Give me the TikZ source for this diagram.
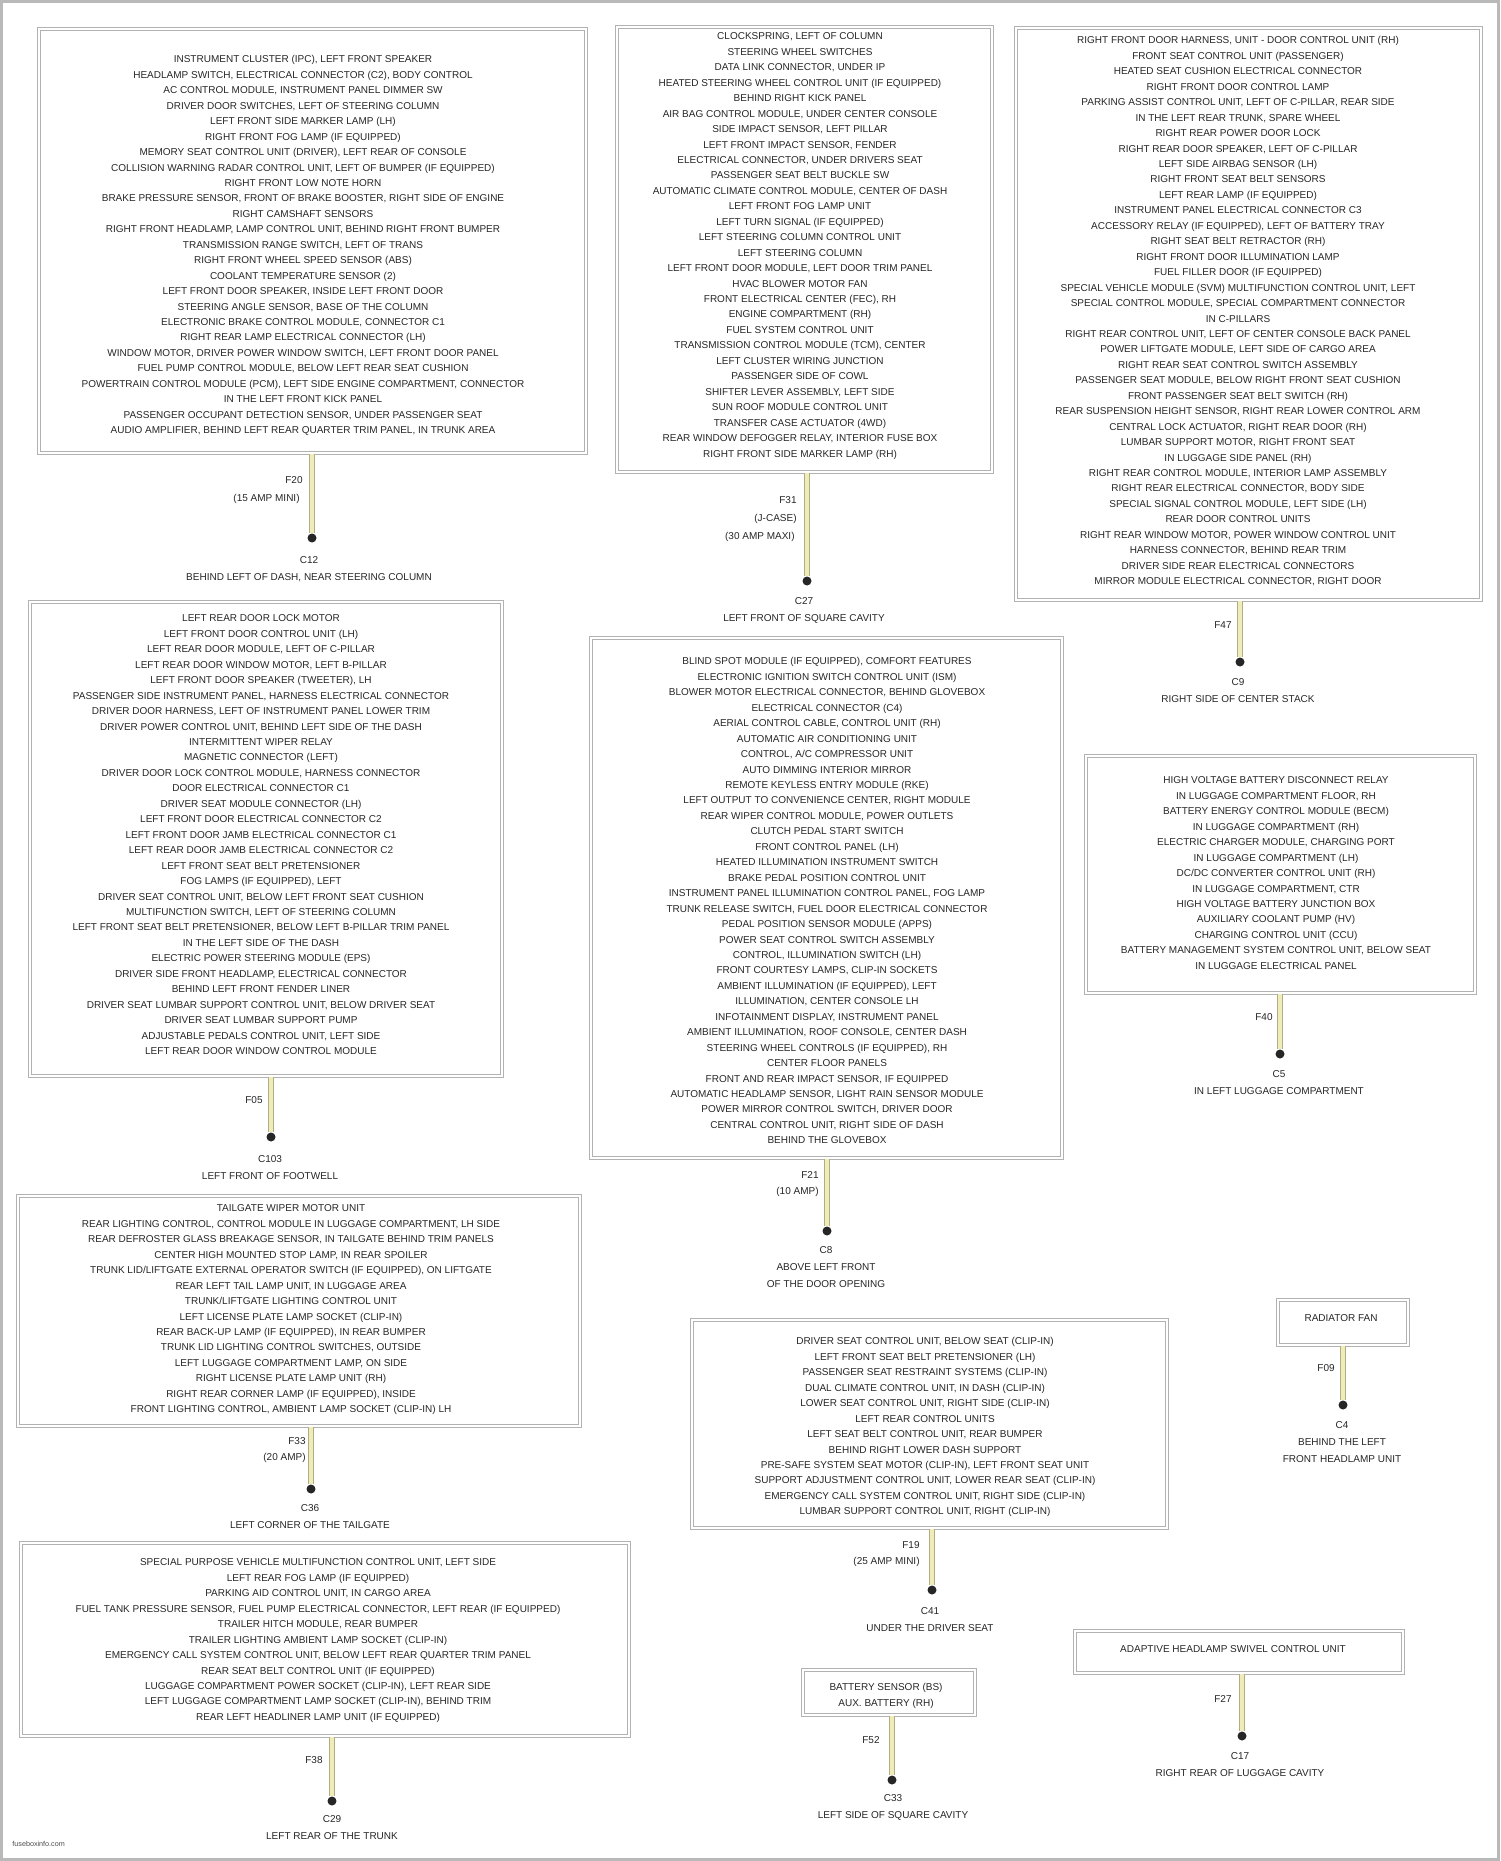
\documentclass[tikz,border=0pt]{standalone}
\usepackage{fontspec}
\newfontfamily\lab{Liberation Sans}
\usetikzlibrary{fit}
\newcommand\fs{\rule{0pt}{3.75pt}}
\begin{document}
\begin{tikzpicture}[x=0.5pt,y=-0.5pt,
  box/.style={draw=gray!60, line width=0.55pt, double=white, double distance=0.9pt, inner sep=0pt},
  txt/.style={align=center, inner sep=0pt, anchor=north, font=\lab\fontsize{5}{7.725}\selectfont, text=black!85},
  dlab/.style={align=center, inner sep=0pt, anchor=north, font=\lab\fontsize{5}{8.4}\selectfont, text=black!85},
  elab/.style={align=right, inner sep=0pt, anchor=north east, font=\lab\fontsize{5}{8.4}\selectfont, text=black!85},
  wire/.style={draw={rgb,255:red,176;green,172;blue,132}, line width=0.5pt, double={rgb,255:red,240;green,236;blue,186}, double distance=1.6pt},
  pin/.style={circle, fill=black!85, inner sep=0pt, minimum size=4.5pt},
  credit/.style={inner sep=0pt, anchor=west, font=\lab\fontsize{3.6}{4}\selectfont, text=black!70}
]
\useasboundingbox (0,0) rectangle (1500,1861);
\draw[gray!55, line width=1.5pt] (1.5,1.5) rectangle (1498.5,1859.5);

% ---------- boxes ----------
\node[box, fit={(39,29) (586,453)}] (b1) {};
\node[box, fit={(617,27) (992,472)}] (b2) {};
\node[box, fit={(1016,28) (1481,600)}] (b3) {};
\node[box, fit={(30,602) (502,1076)}] (b4) {};
\node[box, fit={(591,638) (1062,1158)}] (b5) {};
\node[box, fit={(1086,756) (1475,993)}] (b6) {};
\node[box, fit={(18,1196) (580,1426)}] (b7) {};
\node[box, fit={(21,1543) (629,1736)}] (b8) {};
\node[box, fit={(692,1320) (1167,1528)}] (b9) {};
\node[box, fit={(1278,1300) (1408,1345)}] (b10) {};
\node[box, fit={(803,1670) (975,1715)}] (b11) {};
\node[box, fit={(1075,1631) (1403,1673)}] (b12) {};

% ---------- box texts ----------
\node[txt] (t1) at (303,55) {\fs INSTRUMENT CLUSTER (IPC), LEFT FRONT SPEAKER\\
HEADLAMP SWITCH, ELECTRICAL CONNECTOR (C2), BODY CONTROL\\
AC CONTROL MODULE, INSTRUMENT PANEL DIMMER SW\\
DRIVER DOOR SWITCHES, LEFT OF STEERING COLUMN\\
LEFT FRONT SIDE MARKER LAMP (LH)\\
RIGHT FRONT FOG LAMP (IF EQUIPPED)\\
MEMORY SEAT CONTROL UNIT (DRIVER), LEFT REAR OF CONSOLE\\
COLLISION WARNING RADAR CONTROL UNIT, LEFT OF BUMPER (IF EQUIPPED)\\
RIGHT FRONT LOW NOTE HORN\\
BRAKE PRESSURE SENSOR, FRONT OF BRAKE BOOSTER, RIGHT SIDE OF ENGINE\\
RIGHT CAMSHAFT SENSORS\\
RIGHT FRONT HEADLAMP, LAMP CONTROL UNIT, BEHIND RIGHT FRONT BUMPER\\
TRANSMISSION RANGE SWITCH, LEFT OF TRANS\\
RIGHT FRONT WHEEL SPEED SENSOR (ABS)\\
COOLANT TEMPERATURE SENSOR (2)\\
LEFT FRONT DOOR SPEAKER, INSIDE LEFT FRONT DOOR\\
STEERING ANGLE SENSOR, BASE OF THE COLUMN\\
ELECTRONIC BRAKE CONTROL MODULE, CONNECTOR C1\\
RIGHT REAR LAMP ELECTRICAL CONNECTOR (LH)\\
WINDOW MOTOR, DRIVER POWER WINDOW SWITCH, LEFT FRONT DOOR PANEL\\
FUEL PUMP CONTROL MODULE, BELOW LEFT REAR SEAT CUSHION\\
POWERTRAIN CONTROL MODULE (PCM), LEFT SIDE ENGINE COMPARTMENT, CONNECTOR\\
IN THE LEFT FRONT KICK PANEL\\
PASSENGER OCCUPANT DETECTION SENSOR, UNDER PASSENGER SEAT\\
AUDIO AMPLIFIER, BEHIND LEFT REAR QUARTER TRIM PANEL, IN TRUNK AREA};

\node[txt] (t2) at (800,32) {\fs CLOCKSPRING, LEFT OF COLUMN\\
STEERING WHEEL SWITCHES\\
DATA LINK CONNECTOR, UNDER IP\\
HEATED STEERING WHEEL CONTROL UNIT (IF EQUIPPED)\\
BEHIND RIGHT KICK PANEL\\
AIR BAG CONTROL MODULE, UNDER CENTER CONSOLE\\
SIDE IMPACT SENSOR, LEFT PILLAR\\
LEFT FRONT IMPACT SENSOR, FENDER\\
ELECTRICAL CONNECTOR, UNDER DRIVERS SEAT\\
PASSENGER SEAT BELT BUCKLE SW\\
AUTOMATIC CLIMATE CONTROL MODULE, CENTER OF DASH\\
LEFT FRONT FOG LAMP UNIT\\
LEFT TURN SIGNAL (IF EQUIPPED)\\
LEFT STEERING COLUMN CONTROL UNIT\\
LEFT STEERING COLUMN\\
LEFT FRONT DOOR MODULE, LEFT DOOR TRIM PANEL\\
HVAC BLOWER MOTOR FAN\\
FRONT ELECTRICAL CENTER (FEC), RH\\
ENGINE COMPARTMENT (RH)\\
FUEL SYSTEM CONTROL UNIT\\
TRANSMISSION CONTROL MODULE (TCM), CENTER\\
LEFT CLUSTER WIRING JUNCTION\\
PASSENGER SIDE OF COWL\\
SHIFTER LEVER ASSEMBLY, LEFT SIDE\\
SUN ROOF MODULE CONTROL UNIT\\
TRANSFER CASE ACTUATOR (4WD)\\
REAR WINDOW DEFOGGER RELAY, INTERIOR FUSE BOX\\
RIGHT FRONT SIDE MARKER LAMP (RH)};

\node[txt] (t3) at (1238,36) {\fs RIGHT FRONT DOOR HARNESS, UNIT - DOOR CONTROL UNIT (RH)\\
FRONT SEAT CONTROL UNIT (PASSENGER)\\
HEATED SEAT CUSHION ELECTRICAL CONNECTOR\\
RIGHT FRONT DOOR CONTROL LAMP\\
PARKING ASSIST CONTROL UNIT, LEFT OF C-PILLAR, REAR SIDE\\
IN THE LEFT REAR TRUNK, SPARE WHEEL\\
RIGHT REAR POWER DOOR LOCK\\
RIGHT REAR DOOR SPEAKER, LEFT OF C-PILLAR\\
LEFT SIDE AIRBAG SENSOR (LH)\\
RIGHT FRONT SEAT BELT SENSORS\\
LEFT REAR LAMP (IF EQUIPPED)\\
INSTRUMENT PANEL ELECTRICAL CONNECTOR C3\\
ACCESSORY RELAY (IF EQUIPPED), LEFT OF BATTERY TRAY\\
RIGHT SEAT BELT RETRACTOR (RH)\\
RIGHT FRONT DOOR ILLUMINATION LAMP\\
FUEL FILLER DOOR (IF EQUIPPED)\\
SPECIAL VEHICLE MODULE (SVM) MULTIFUNCTION CONTROL UNIT, LEFT\\
SPECIAL CONTROL MODULE, SPECIAL COMPARTMENT CONNECTOR\\
IN C-PILLARS\\
RIGHT REAR CONTROL UNIT, LEFT OF CENTER CONSOLE BACK PANEL\\
POWER LIFTGATE MODULE, LEFT SIDE OF CARGO AREA\\
RIGHT REAR SEAT CONTROL SWITCH ASSEMBLY\\
PASSENGER SEAT MODULE, BELOW RIGHT FRONT SEAT CUSHION\\
FRONT PASSENGER SEAT BELT SWITCH (RH)\\
REAR SUSPENSION HEIGHT SENSOR, RIGHT REAR LOWER CONTROL ARM\\
CENTRAL LOCK ACTUATOR, RIGHT REAR DOOR (RH)\\
LUMBAR SUPPORT MOTOR, RIGHT FRONT SEAT\\
IN LUGGAGE SIDE PANEL (RH)\\
RIGHT REAR CONTROL MODULE, INTERIOR LAMP ASSEMBLY\\
RIGHT REAR ELECTRICAL CONNECTOR, BODY SIDE\\
SPECIAL SIGNAL CONTROL MODULE, LEFT SIDE (LH)\\
REAR DOOR CONTROL UNITS\\
RIGHT REAR WINDOW MOTOR, POWER WINDOW CONTROL UNIT\\
HARNESS CONNECTOR, BEHIND REAR TRIM\\
DRIVER SIDE REAR ELECTRICAL CONNECTORS\\
MIRROR MODULE ELECTRICAL CONNECTOR, RIGHT DOOR};

\node[txt] (t4) at (261,614) {\fs LEFT REAR DOOR LOCK MOTOR\\
LEFT FRONT DOOR CONTROL UNIT (LH)\\
LEFT REAR DOOR MODULE, LEFT OF C-PILLAR\\
LEFT REAR DOOR WINDOW MOTOR, LEFT B-PILLAR\\
LEFT FRONT DOOR SPEAKER (TWEETER), LH\\
PASSENGER SIDE INSTRUMENT PANEL, HARNESS ELECTRICAL CONNECTOR\\
DRIVER DOOR HARNESS, LEFT OF INSTRUMENT PANEL LOWER TRIM\\
DRIVER POWER CONTROL UNIT, BEHIND LEFT SIDE OF THE DASH\\
INTERMITTENT WIPER RELAY\\
MAGNETIC CONNECTOR (LEFT)\\
DRIVER DOOR LOCK CONTROL MODULE, HARNESS CONNECTOR\\
DOOR ELECTRICAL CONNECTOR C1\\
DRIVER SEAT MODULE CONNECTOR (LH)\\
LEFT FRONT DOOR ELECTRICAL CONNECTOR C2\\
LEFT FRONT DOOR JAMB ELECTRICAL CONNECTOR C1\\
LEFT REAR DOOR JAMB ELECTRICAL CONNECTOR C2\\
LEFT FRONT SEAT BELT PRETENSIONER\\
FOG LAMPS (IF EQUIPPED), LEFT\\
DRIVER SEAT CONTROL UNIT, BELOW LEFT FRONT SEAT CUSHION\\
MULTIFUNCTION SWITCH, LEFT OF STEERING COLUMN\\
LEFT FRONT SEAT BELT PRETENSIONER, BELOW LEFT B-PILLAR TRIM PANEL\\
IN THE LEFT SIDE OF THE DASH\\
ELECTRIC POWER STEERING MODULE (EPS)\\
DRIVER SIDE FRONT HEADLAMP, ELECTRICAL CONNECTOR\\
BEHIND LEFT FRONT FENDER LINER\\
DRIVER SEAT LUMBAR SUPPORT CONTROL UNIT, BELOW DRIVER SEAT\\
DRIVER SEAT LUMBAR SUPPORT PUMP\\
ADJUSTABLE PEDALS CONTROL UNIT, LEFT SIDE\\
LEFT REAR DOOR WINDOW CONTROL MODULE};

\node[txt] (t5) at (827,657) {\fs BLIND SPOT MODULE (IF EQUIPPED), COMFORT FEATURES\\
ELECTRONIC IGNITION SWITCH CONTROL UNIT (ISM)\\
BLOWER MOTOR ELECTRICAL CONNECTOR, BEHIND GLOVEBOX\\
ELECTRICAL CONNECTOR (C4)\\
AERIAL CONTROL CABLE, CONTROL UNIT (RH)\\
AUTOMATIC AIR CONDITIONING UNIT\\
CONTROL, A/C COMPRESSOR UNIT\\
AUTO DIMMING INTERIOR MIRROR\\
REMOTE KEYLESS ENTRY MODULE (RKE)\\
LEFT OUTPUT TO CONVENIENCE CENTER, RIGHT MODULE\\
REAR WIPER CONTROL MODULE, POWER OUTLETS\\
CLUTCH PEDAL START SWITCH\\
FRONT CONTROL PANEL (LH)\\
HEATED ILLUMINATION INSTRUMENT SWITCH\\
BRAKE PEDAL POSITION CONTROL UNIT\\
INSTRUMENT PANEL ILLUMINATION CONTROL PANEL, FOG LAMP\\
TRUNK RELEASE SWITCH, FUEL DOOR ELECTRICAL CONNECTOR\\
PEDAL POSITION SENSOR MODULE (APPS)\\
POWER SEAT CONTROL SWITCH ASSEMBLY\\
CONTROL, ILLUMINATION SWITCH (LH)\\
FRONT COURTESY LAMPS, CLIP-IN SOCKETS\\
AMBIENT ILLUMINATION (IF EQUIPPED), LEFT\\
ILLUMINATION, CENTER CONSOLE LH\\
INFOTAINMENT DISPLAY, INSTRUMENT PANEL\\
AMBIENT ILLUMINATION, ROOF CONSOLE, CENTER DASH\\
STEERING WHEEL CONTROLS (IF EQUIPPED), RH\\
CENTER FLOOR PANELS\\
FRONT AND REAR IMPACT SENSOR, IF EQUIPPED\\
AUTOMATIC HEADLAMP SENSOR, LIGHT RAIN SENSOR MODULE\\
POWER MIRROR CONTROL SWITCH, DRIVER DOOR\\
CENTRAL CONTROL UNIT, RIGHT SIDE OF DASH\\
BEHIND THE GLOVEBOX};

\node[txt] (t6) at (1276,776) {\fs HIGH VOLTAGE BATTERY DISCONNECT RELAY\\
IN LUGGAGE COMPARTMENT FLOOR, RH\\
BATTERY ENERGY CONTROL MODULE (BECM)\\
IN LUGGAGE COMPARTMENT (RH)\\
ELECTRIC CHARGER MODULE, CHARGING PORT\\
IN LUGGAGE COMPARTMENT (LH)\\
DC/DC CONVERTER CONTROL UNIT (RH)\\
IN LUGGAGE COMPARTMENT, CTR\\
HIGH VOLTAGE BATTERY JUNCTION BOX\\
AUXILIARY COOLANT PUMP (HV)\\
CHARGING CONTROL UNIT (CCU)\\
BATTERY MANAGEMENT SYSTEM CONTROL UNIT, BELOW SEAT\\
IN LUGGAGE ELECTRICAL PANEL};

\node[txt] (t7) at (291,1204) {\fs TAILGATE WIPER MOTOR UNIT\\
REAR LIGHTING CONTROL, CONTROL MODULE IN LUGGAGE COMPARTMENT, LH SIDE\\
REAR DEFROSTER GLASS BREAKAGE SENSOR, IN TAILGATE BEHIND TRIM PANELS\\
CENTER HIGH MOUNTED STOP LAMP, IN REAR SPOILER\\
TRUNK LID/LIFTGATE EXTERNAL OPERATOR SWITCH (IF EQUIPPED), ON LIFTGATE\\
REAR LEFT TAIL LAMP UNIT, IN LUGGAGE AREA\\
TRUNK/LIFTGATE LIGHTING CONTROL UNIT\\
LEFT LICENSE PLATE LAMP SOCKET (CLIP-IN)\\
REAR BACK-UP LAMP (IF EQUIPPED), IN REAR BUMPER\\
TRUNK LID LIGHTING CONTROL SWITCHES, OUTSIDE\\
LEFT LUGGAGE COMPARTMENT LAMP, ON SIDE\\
RIGHT LICENSE PLATE LAMP UNIT (RH)\\
RIGHT REAR CORNER LAMP (IF EQUIPPED), INSIDE\\
FRONT LIGHTING CONTROL, AMBIENT LAMP SOCKET (CLIP-IN) LH};

\node[txt] (t8) at (318,1558) {\fs SPECIAL PURPOSE VEHICLE MULTIFUNCTION CONTROL UNIT, LEFT SIDE\\
LEFT REAR FOG LAMP (IF EQUIPPED)\\
PARKING AID CONTROL UNIT, IN CARGO AREA\\
FUEL TANK PRESSURE SENSOR, FUEL PUMP ELECTRICAL CONNECTOR, LEFT REAR (IF EQUIPPED)\\
TRAILER HITCH MODULE, REAR BUMPER\\
TRAILER LIGHTING AMBIENT LAMP SOCKET (CLIP-IN)\\
EMERGENCY CALL SYSTEM CONTROL UNIT, BELOW LEFT REAR QUARTER TRIM PANEL\\
REAR SEAT BELT CONTROL UNIT (IF EQUIPPED)\\
LUGGAGE COMPARTMENT POWER SOCKET (CLIP-IN), LEFT REAR SIDE\\
LEFT LUGGAGE COMPARTMENT LAMP SOCKET (CLIP-IN), BEHIND TRIM\\
REAR LEFT HEADLINER LAMP UNIT (IF EQUIPPED)};

\node[txt] (t9) at (925,1337) {\fs DRIVER SEAT CONTROL UNIT, BELOW SEAT (CLIP-IN)\\
LEFT FRONT SEAT BELT PRETENSIONER (LH)\\
PASSENGER SEAT RESTRAINT SYSTEMS (CLIP-IN)\\
DUAL CLIMATE CONTROL UNIT, IN DASH (CLIP-IN)\\
LOWER SEAT CONTROL UNIT, RIGHT SIDE (CLIP-IN)\\
LEFT REAR CONTROL UNITS\\
LEFT SEAT BELT CONTROL UNIT, REAR BUMPER\\
BEHIND RIGHT LOWER DASH SUPPORT\\
PRE-SAFE SYSTEM SEAT MOTOR (CLIP-IN), LEFT FRONT SEAT UNIT\\
SUPPORT ADJUSTMENT CONTROL UNIT, LOWER REAR SEAT (CLIP-IN)\\
EMERGENCY CALL SYSTEM CONTROL UNIT, RIGHT SIDE (CLIP-IN)\\
LUMBAR SUPPORT CONTROL UNIT, RIGHT (CLIP-IN)};

\node[txt] (t10) at (1341,1314) {\fs RADIATOR FAN};
\node[txt] (t11) at (886,1683) {\fs BATTERY SENSOR (BS)\\AUX. BATTERY (RH)};
\node[txt] (t12) at (1233,1645) {\fs ADAPTIVE HEADLAMP SWIVEL CONTROL UNIT};

% ---------- pins ----------
\node[pin] (d1) at (312,538) {};
\node[pin] (d2) at (807,581) {};
\node[pin] (d3) at (1240,662) {};
\node[pin] (d4) at (271,1137) {};
\node[pin] (d5) at (827,1231) {};
\node[pin] (d6) at (1280,1054) {};
\node[pin] (d7) at (311,1489) {};
\node[pin] (d8) at (332,1801) {};
\node[pin] (d9) at (932,1590) {};
\node[pin] (d10) at (1343,1405) {};
\node[pin] (d11) at (892,1780) {};
\node[pin] (d12) at (1242,1736) {};

% ---------- wires ----------
\foreach \i in {1,...,12}{
  \draw[wire] (b\i.south -| d\i) -- (d\i.north);
}

% ---------- wire labels ----------
\node[elab] (f1) at (303,476) {\fs F20};
\node[elab] (a1) at (300,494) {\fs (15 AMP MINI)};
\node[elab] (f2) at (797,496) {\fs F31};
\node[elab] (a2) at (797,514) {\fs (J-CASE)};
\node[elab] (m2) at (795,532) {\fs (30 AMP MAXI)};
\node[elab] (f3) at (1232,621) {\fs F47};
\node[elab] (f4) at (263,1096) {\fs F05};
\node[elab] (f5) at (819,1171) {\fs F21};
\node[elab] (a5) at (819,1187) {\fs (10 AMP)};
\node[elab] (f6) at (1273,1013) {\fs F40};
\node[elab] (f7) at (306,1437) {\fs F33};
\node[elab] (a7) at (306,1453) {\fs (20 AMP)};
\node[elab] (f8) at (323,1756) {\fs F38};
\node[elab] (f9) at (920,1541) {\fs F19};
\node[elab] (a9) at (920,1557) {\fs (25 AMP MINI)};
\node[elab] (f10) at (1335,1364) {\fs F09};
\node[elab] (f11) at (880,1736) {\fs F52};
\node[elab] (f12) at (1232,1695) {\fs F27};

% ---------- pin labels ----------
\node[dlab] (l1) at (309,556) {\fs C12\\BEHIND LEFT OF DASH, NEAR STEERING COLUMN};
\node[dlab] (l2) at (804,597) {\fs C27\\LEFT FRONT OF SQUARE CAVITY};
\node[dlab] (l3) at (1238,678) {\fs C9\\RIGHT SIDE OF CENTER STACK};
\node[dlab] (l4) at (270,1155) {\fs C103\\LEFT FRONT OF FOOTWELL};
\node[dlab] (l5) at (826,1246) {\fs C8\\ABOVE LEFT FRONT\\OF THE DOOR OPENING};
\node[dlab] (l6) at (1279,1070) {\fs C5\\IN LEFT LUGGAGE COMPARTMENT};
\node[dlab] (l7) at (310,1504) {\fs C36\\LEFT CORNER OF THE TAILGATE};
\node[dlab] (l8) at (332,1815) {\fs C29\\LEFT REAR OF THE TRUNK};
\node[dlab] (l9) at (930,1607) {\fs C41\\UNDER THE DRIVER SEAT};
\node[dlab] (l10) at (1342,1421) {\fs C4\\BEHIND THE LEFT\\FRONT HEADLAMP UNIT};
\node[dlab] (l11) at (893,1794) {\fs C33\\LEFT SIDE OF SQUARE CAVITY};
\node[dlab] (l12) at (1240,1752) {\fs C17\\RIGHT REAR OF LUGGAGE CAVITY};

\node[credit] (cr) at (12,1844) {fuseboxinfo.com};
\end{tikzpicture}
\end{document}
